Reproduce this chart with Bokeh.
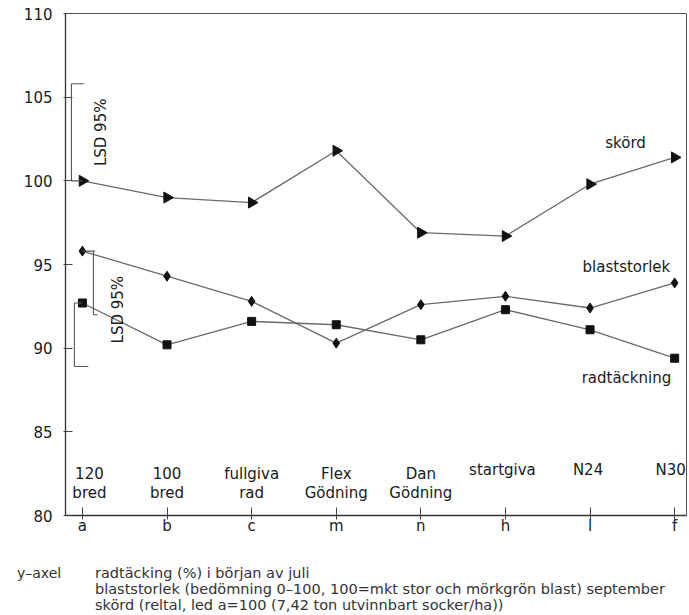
import math
from bokeh.plotting import figure
from bokeh.layouts import column
from bokeh.models import ColumnDataSource, Div, FixedTicker, Range1d
from bokeh.core.properties import value
from bokeh.embed import file_html
from bokeh.resources import INLINE

# ---- data ----
codes = ["a", "b", "c", "m", "n", "h", "l", "f"]
treatments = ["120\nbred", "100\nbred", "fullgiva\nrad", "Flex\nGödning",
              "Dan\nGödning", "startgiva", "N24", "N30"]
skord = [100.0, 99.0, 98.7, 101.8, 96.9, 96.7, 99.8, 101.4]
blaststorlek = [95.8, 94.3, 92.8, 90.3, 92.6, 93.1, 92.4, 93.9]
radtackning = [92.7, 90.2, 91.6, 91.4, 90.5, 92.3, 91.1, 89.4]
lsd_skord = [100.0, 105.8]
lsd_blast = [95.8, 92.0]
lsd_rad = [92.7, 88.9]
y_ticks = [80, 85, 90, 95, 100, 105, 110]
series_names = ["skörd", "blaststorlek", "radtäckning"]
lsd_text = "LSD 95%"
footnote_head = "y–axel"
footnote_lines = [
    "radtäcking (%) i början av juli",
    "blaststorlek (bedömning 0–100, 100=mkt stor och mörkgrön blast) september",
    "skörd (reltal, led a=100 (7,42 ton utvinnbart socker/ha))",
]

FONT = "DejaVu Sans"
INK = "#1a1a1a"
LINE = "#6a6a6a"

xs = list(range(len(codes)))

p = figure(width=689, height=540, x_range=Range1d(-0.2, 7.14), y_range=Range1d(80, 110),
           output_backend="svg", toolbar_location=None,
           min_border_left=65, min_border_right=3, min_border_top=13, min_border_bottom=25)
p.xgrid.visible = False
p.ygrid.visible = False
p.outline_line_color = "#555555"
p.outline_line_width = 1
p.background_fill_color = "white"
p.border_fill_color = "white"

# axes
p.xaxis.ticker = FixedTicker(ticks=xs)
p.xaxis.major_label_overrides = {i: c for i, c in zip(xs, codes)}
p.yaxis.ticker = FixedTicker(ticks=y_ticks)
for ax in (p.xaxis[0], p.yaxis[0]):
    ax.axis_line_color = "#333333"
    ax.axis_line_width = 1.3
    ax.major_tick_line_color = "#444444"
    ax.minor_tick_line_color = None
    ax.major_label_text_font = FONT
    ax.major_label_text_color = INK
p.xaxis.major_tick_in = 8
p.xaxis.major_tick_out = 4
p.xaxis.major_label_standoff = -3
p.xaxis.major_label_text_font_size = "15px"
p.yaxis.major_tick_in = 7
p.yaxis.major_tick_out = 2
p.yaxis.major_label_standoff = 11
p.yaxis.major_label_text_font_size = "15px"

# series
p.line(xs, skord, line_color=LINE, line_width=1.3)
p.scatter(xs, skord, marker="triangle", angle=-math.pi / 2, size=11, color="#111111")
p.line(xs, blaststorlek, line_color=LINE, line_width=1.3)
p.scatter(xs, blaststorlek, marker="diamond", size=10, color="#111111")
p.line(xs, radtackning, line_color=LINE, line_width=1.3)
p.scatter(xs, radtackning, marker="square", size=8, color="#111111")

# LSD brackets
x0 = xs[0]
segs = dict(
    x0=[x0 - 0.13, x0 - 0.13, x0 - 0.13,
        x0 + 0.13, x0, x0 + 0.13,
        x0 - 0.095, x0 - 0.095, x0 - 0.095],
    y0=[lsd_skord[0], lsd_skord[1], lsd_skord[0],
        lsd_blast[0], lsd_blast[0], lsd_blast[1],
        lsd_rad[0], lsd_rad[0], lsd_rad[1]],
    x1=[x0 - 0.13, x0 + 0.02, x0,
        x0 + 0.13, x0 + 0.15, x0 + 0.18,
        x0 - 0.095, x0, x0 + 0.07],
    y1=[lsd_skord[1], lsd_skord[1], lsd_skord[0],
        lsd_blast[1], lsd_blast[0], lsd_blast[1],
        lsd_rad[1], lsd_rad[0], lsd_rad[1]],
)
p.segment(x0="x0", y0="y0", x1="x1", y1="y1", source=ColumnDataSource(segs),
          line_color="#555555", line_width=1.1)

p.text(x=[x0 + 0.225, x0 + 0.426],
       y=[(lsd_skord[0] + lsd_skord[1]) / 2, (lsd_blast[0] + lsd_blast[1]) / 2 - 1.6],
       text=[lsd_text, lsd_text], angle=math.pi / 2, text_align="center",
       text_baseline="middle", text_font=value(FONT), text_font_size="15px",
       text_color=INK)

# category labels above the x-axis
cat_src = ColumnDataSource(dict(
    x=xs, y=[83.0] * len(xs), text=treatments,
    xoff=[7, 0, 0, 0, 0, -3, -2, -4],
    yoff=[0 if "\n" in t else -4 for t in treatments],
))
p.text(x="x", y="y", text="text", x_offset="xoff", y_offset="yoff", source=cat_src,
       text_align="center", text_baseline="top", text_line_height=1.05,
       text_font=value(FONT), text_font_size="15px", text_color=INK)

# series labels
p.text(x=[6.42, 6.43, 6.43], y=[102.24, 94.88, 88.19], text=series_names,
       text_align="center", text_baseline="middle", text_font=value(FONT),
       text_font_size="15px", text_color=INK)

# footnote below the chart
body = "<br>".join(footnote_lines)
note = Div(width=689, height=75, text=(
    f"<div style=\"position:relative;width:689px;height:75px;font-family:'{FONT}';"
    f"color:#333333;font-size:14.5px;line-height:16px;\">"
    f"<div style=\"position:absolute;left:17px;top:25px;font-size:14px;\">{footnote_head}</div>"
    f"<div style=\"position:absolute;left:95px;top:25px;white-space:nowrap;\">{body}</div>"
    f"</div>"), margin=(0, 0, 0, 0))

layout = column(p, note, spacing=0)
open("out.html", "w").write(file_html(layout, INLINE))
